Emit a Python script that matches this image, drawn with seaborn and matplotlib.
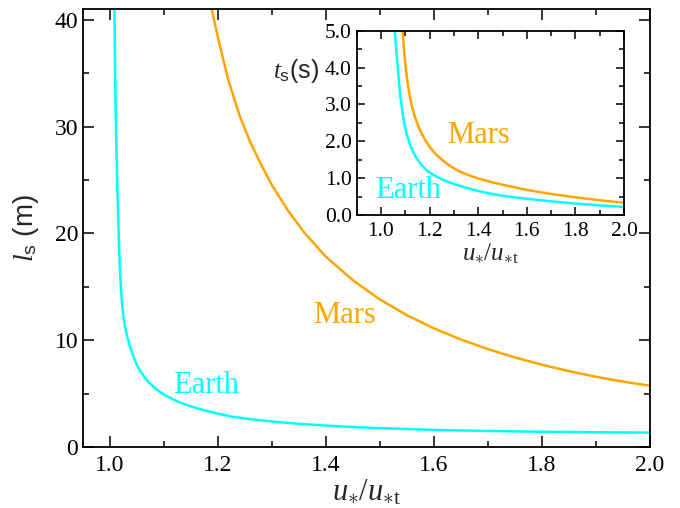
import numpy as np
import matplotlib
matplotlib.use("Agg")
import matplotlib.pyplot as plt
import seaborn as sns
from matplotlib.ticker import MultipleLocator, FormatStrFormatter

# ─── Data ────────────────────────────────────────────────────────────────
# main panel: saltation length l_s (m) vs u*/u*t
earth_u = [1.0080, 1.0090, 1.0100, 1.0110, 1.0125, 1.0140, 1.0160, 1.0180,
           1.0200, 1.0225, 1.0250, 1.0280, 1.0320, 1.0360, 1.0400, 1.0450,
           1.0500, 1.0560, 1.0630, 1.0700, 1.0800, 1.0900, 1.1000, 1.1150,
           1.1300, 1.1500, 1.1700, 1.1950, 1.2250, 1.2600, 1.3000, 1.3500,
           1.4000, 1.4500, 1.5000, 1.6000, 1.7000, 1.8000, 1.9000, 2.0000]
earth_l = [42.0, 37.0, 33.0, 30.0, 26.5, 23.5, 20.0, 17.0,
           15.0, 13.3, 12.2, 11.2, 10.3, 9.55, 8.95, 8.25,
           7.65, 7.1, 6.6, 6.15, 5.65, 5.25, 4.9, 4.5,
           4.15, 3.8, 3.5, 3.17, 2.85, 2.6, 2.38, 2.17,
           2.0, 1.87, 1.76, 1.6, 1.5, 1.43, 1.38, 1.34]

mars_u = [1.18, 1.19, 1.20, 1.21, 1.22, 1.24, 1.26, 1.28, 1.30, 1.33,
          1.36, 1.40, 1.45, 1.50, 1.55, 1.60, 1.65, 1.70, 1.75, 1.80,
          1.85, 1.90, 1.95, 2.00]
mars_l = [43.0, 40.6, 38.3, 36.2, 34.2, 31.0, 28.5, 26.4, 24.5, 22.1,
          20.05, 17.8, 15.6, 13.8, 12.33, 11.1, 10.06, 9.16, 8.38, 7.70,
          7.1, 6.57, 6.12, 5.73]

# inset: saltation time t_s (s) vs u*/u*t
earth_ti_u = [1.055, 1.060, 1.065, 1.070, 1.078, 1.086, 1.095, 1.105, 1.118,
              1.133, 1.150, 1.170, 1.190, 1.220, 1.256, 1.300, 1.350, 1.400,
              1.450, 1.500, 1.550, 1.600, 1.700, 1.800, 1.900, 2.000]
earth_ti_t = [5.15, 4.7, 4.3, 3.9, 3.3, 2.9, 2.5, 2.2, 1.93,
              1.70, 1.50, 1.33, 1.20, 1.07, 0.95, 0.84, 0.74, 0.65,
              0.58, 0.52, 0.48, 0.44, 0.37, 0.31, 0.26, 0.22]

mars_ti_u = [1.087, 1.092, 1.099, 1.106, 1.115, 1.125, 1.140, 1.160, 1.180,
             1.200, 1.222, 1.250, 1.284, 1.320, 1.360, 1.400, 1.450, 1.500,
             1.550, 1.600, 1.700, 1.800, 1.900, 2.000]
mars_ti_t = [5.15, 4.7, 4.15, 3.75, 3.35, 3.0, 2.65, 2.3, 2.05,
             1.85, 1.67, 1.50, 1.33, 1.19, 1.08, 0.99, 0.90, 0.82,
             0.75, 0.68, 0.57, 0.48, 0.40, 0.33]

EARTH_COLOR = "#00FFFF"
MARS_COLOR = "#FFA500"

sns.set_style("ticks")
plt.rcParams["font.family"] = ["Liberation Serif", "DejaVu Serif"]
plt.rcParams["mathtext.fontset"] = "custom"
plt.rcParams["mathtext.rm"] = "Liberation Serif"
plt.rcParams["mathtext.it"] = "Liberation Serif:italic"
plt.rcParams["mathtext.sf"] = "Liberation Sans"
plt.rcParams["axes.linewidth"] = 1.3


def style_axes(ax, fs, major_len, minor_len):
    ax.tick_params(which="both", direction="in", top=True, right=True,
                   width=1.1, colors="black", labelsize=fs)
    ax.tick_params(which="major", length=major_len)
    ax.tick_params(which="minor", length=minor_len)
    for sp in ax.spines.values():
        sp.set_color("black")
        sp.set_visible(True)


fig = plt.figure(figsize=(6.8, 5.08), dpi=100)

# ─── Main panel ─────────────────────────────────────────────────────────
ax = fig.add_axes([0.1221, 0.1201, 0.8338, 0.8622])
sns.lineplot(x=earth_u, y=earth_l, ax=ax, color=EARTH_COLOR, lw=1.8)
sns.lineplot(x=mars_u, y=mars_l, ax=ax, color=MARS_COLOR, lw=1.8)
ax.set_xlim(0.95, 2.0)
ax.set_ylim(0, 41)
ax.xaxis.set_major_locator(MultipleLocator(0.2))
ax.xaxis.set_minor_locator(MultipleLocator(0.1))
ax.yaxis.set_major_locator(MultipleLocator(10))
ax.yaxis.set_minor_locator(MultipleLocator(5))
ax.xaxis.set_major_formatter(FormatStrFormatter("%.1f"))
style_axes(ax, 17, 8, 4.5)
ax.tick_params(axis="x", pad=6)

ax.set_xlabel(r"$u_{\ast}/u_{\ast\mathrm{t}}$", fontsize=22, labelpad=1)
ax.set_ylabel(r"$l_{\mathsf{s}}$ (m)", fontsize=20, family="Liberation Sans")
ax.yaxis.set_label_coords(-0.075, 0.5)

ax.text(1.116, 5.05, "Earth", color=EARTH_COLOR, fontsize=22, ha="left", va="baseline")
ax.text(1.376, 11.6, "Mars", color=MARS_COLOR, fontsize=22, ha="left", va="baseline")

# ─── Inset ──────────────────────────────────────────────────────────────
axi = fig.add_axes([0.5246, 0.5768, 0.3931, 0.3628])
sns.lineplot(x=earth_ti_u, y=earth_ti_t, ax=axi, color=EARTH_COLOR, lw=1.8)
sns.lineplot(x=mars_ti_u, y=mars_ti_t, ax=axi, color=MARS_COLOR, lw=1.8)
axi.set_xlim(0.9, 2.0)
axi.set_ylim(0, 5)
axi.xaxis.set_major_locator(MultipleLocator(0.2))
axi.xaxis.set_minor_locator(MultipleLocator(0.1))
axi.yaxis.set_major_locator(MultipleLocator(1))
axi.yaxis.set_minor_locator(MultipleLocator(0.5))
axi.xaxis.set_major_formatter(FormatStrFormatter("%.1f"))
axi.yaxis.set_major_formatter(FormatStrFormatter("%.1f"))
style_axes(axi, 15.5, 6, 3.5)
axi.tick_params(axis="x", pad=5)

axi.set_xlabel(r"$u_{\ast}/u_{\ast\mathrm{t}}$", fontsize=18, labelpad=0)
axi.set_ylabel(r"$t_{\mathsf{s}}$(s)", fontsize=18, family="Liberation Sans",
               rotation=0, ha="right", va="center")
axi.yaxis.set_label_coords(-0.14, 0.78)

axi.text(1.272, 1.95, "Mars", color=MARS_COLOR, fontsize=22, ha="left", va="baseline")
axi.text(0.975, 0.46, "Earth", color=EARTH_COLOR, fontsize=22, ha="left", va="baseline")

fig.savefig("out.png", dpi=100)
